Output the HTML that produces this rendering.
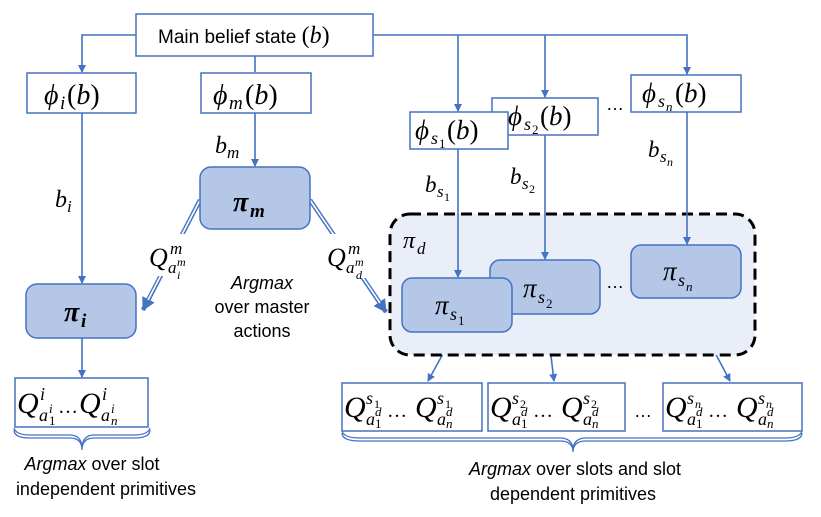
<!DOCTYPE html>
<html><head><meta charset="utf-8"><style>
html,body{margin:0;padding:0;background:#fff;}
svg{display:block}
.m{font-family:"Liberation Serif",serif;font-style:italic;}
.t{font-family:"Liberation Sans",sans-serif;}
.n{font-style:normal;}
</style></head><body>
<svg width="821" height="517" viewBox="0 0 821 517" xmlns="http://www.w3.org/2000/svg">
<defs>
<marker id="a" markerWidth="8" markerHeight="8" refX="7" refY="4" orient="auto" markerUnits="userSpaceOnUse"><path d="M0,0 L8,4 L0,8 z" fill="#4472c4"/></marker>
<marker id="b" markerWidth="14" markerHeight="14" refX="12" refY="7" orient="auto" markerUnits="userSpaceOnUse"><path d="M0,0 L13,7 L0,14 z" fill="#4472c4"/></marker>
</defs>
<g stroke="#4472c4" stroke-width="1.6" fill="none">
<path d="M136,35 H82 V72" marker-end="url(#a)"/>
<path d="M255,56 V72"/>
<path d="M373,35 H687 V74" marker-end="url(#a)"/>
<path d="M458,35 V111" marker-end="url(#a)"/>
<path d="M545,35 V97" marker-end="url(#a)"/>
<path d="M255,113 V166" marker-end="url(#a)"/>
<path d="M82,113 V283" marker-end="url(#a)"/>
<path d="M82,338 V377" marker-end="url(#a)"/>
<path d="M455,332 L428,381" marker-end="url(#a)"/>
<path d="M546,314 L554,381" marker-end="url(#a)"/>
<path d="M686,298 L730,381" marker-end="url(#a)"/>
</g>
<g stroke="#4472c4" stroke-width="4.5" fill="none">
<path d="M200,200 L143,310" marker-end="url(#b)"/>
<path d="M310,200 L386,312" marker-end="url(#b)"/>
</g>
<g stroke="#fff" stroke-width="1.6" fill="none">
<path d="M200,200 L148,300"/>
<path d="M310,200 L380,303"/>
</g>
<rect x="390" y="214" width="365" height="141" rx="20" fill="#e9eef8" stroke="#000" stroke-width="3" stroke-dasharray="11,6"/>
<g stroke="#4472c4" stroke-width="1.6" fill="none">
<path d="M458,149 V277" marker-end="url(#a)"/>
<path d="M545,135 V259" marker-end="url(#a)"/>
<path d="M687,112 V244" marker-end="url(#a)"/>
</g>
<rect x="148" y="234" width="50" height="42" fill="#fff"/>
<rect x="325" y="234" width="52" height="44" fill="#fff"/>
<g fill="#fff" stroke="#4472c4" stroke-width="1.5">
<rect x="136" y="14" width="237" height="42"/>
<rect x="27" y="73" width="109" height="40"/>
<rect x="201" y="73" width="110" height="40"/>
<rect x="492" y="98" width="106" height="37"/>
<rect x="410" y="112" width="98" height="37"/>
<rect x="631" y="75" width="110" height="37"/>
<rect x="15" y="378" width="133" height="49"/>
<rect x="342" y="383" width="140" height="48"/>
<rect x="488" y="383" width="137" height="48"/>
<rect x="663" y="383" width="139" height="48"/>
</g>
<g fill="#b4c7e7" stroke="#4472c4" stroke-width="1.5">
<rect x="200" y="167" width="110" height="62" rx="11"/>
<rect x="26" y="284" width="110" height="54" rx="11"/>
<rect x="490" y="260" width="110" height="54" rx="10"/>
<rect x="402" y="278" width="110" height="54" rx="10"/>
<rect x="631" y="245" width="110" height="53" rx="10"/>
</g>
<g stroke="#4472c4" stroke-width="1.3" fill="none">
<path d="M14,430 Q14,438 30,438 H70 Q82,438 82,450 Q82,438 94,438 H134 Q150,438 150,430"/>
<path d="M14,428 Q16,435 30,435 H70 Q81,435 82,447 Q83,435 94,435 H134 Q148,435 150,428"/>
<path d="M342,433 Q342,441 360,441 H560 Q573,441 573,452 Q573,441 586,441 H785 Q802,441 802,433"/>
<path d="M342,431 Q344,438 360,438 H560 Q572,438 573,449 Q574,438 586,438 H785 Q800,438 802,431"/>
</g>
<text x="158" y="43" class="t" font-size="19">Main belief state <tspan class="m n" font-size="24">(</tspan><tspan class="m" font-size="24">b</tspan><tspan class="m n" font-size="24">)</tspan></text>
<g class="m" fill="#000">
<!-- phi boxes -->
<text x="44" y="104" font-size="28">ϕ</text><text x="60" y="109" font-size="19">i</text><text x="67" y="104" font-size="28"><tspan class="n">(</tspan>b<tspan class="n">)</tspan></text>
<text x="213" y="104" font-size="28">ϕ</text><text x="229" y="109" font-size="19">m</text><text x="245" y="104" font-size="28"><tspan class="n">(</tspan>b<tspan class="n">)</tspan></text>
<text x="415" y="139" font-size="27">ϕ</text><text x="431" y="144" font-size="18">s</text><text x="439" y="148" font-size="13" class="n">1</text><text x="447" y="139" font-size="27"><tspan class="n">(</tspan>b<tspan class="n">)</tspan></text>
<text x="508" y="125" font-size="27">ϕ</text><text x="524" y="130" font-size="18">s</text><text x="532" y="134" font-size="13" class="n">2</text><text x="540" y="125" font-size="27"><tspan class="n">(</tspan>b<tspan class="n">)</tspan></text>
<text x="642" y="102" font-size="27">ϕ</text><text x="658" y="107" font-size="18">s</text><text x="666" y="111" font-size="13">n</text><text x="675" y="102" font-size="27"><tspan class="n">(</tspan>b<tspan class="n">)</tspan></text>
<!-- b labels -->
<text x="215" y="153" font-size="24">b</text><text x="227" y="158" font-size="17">m</text>
<text x="55" y="207" font-size="24">b</text><text x="67" y="212" font-size="17">i</text>
<text x="425" y="192" font-size="23">b</text><text x="437" y="197" font-size="17">s</text><text x="444" y="201" font-size="12" class="n">1</text>
<text x="510" y="184" font-size="23">b</text><text x="522" y="189" font-size="17">s</text><text x="529" y="193" font-size="12" class="n">2</text>
<text x="648" y="157" font-size="23">b</text><text x="660" y="162" font-size="17">s</text><text x="667" y="166" font-size="12">n</text>
<!-- pi -->
<text x="233" y="211" font-size="28" font-weight="bold">π</text><text x="250" y="217" font-size="19" font-weight="bold">m</text>
<text x="64" y="321" font-size="28" font-weight="bold">π</text><text x="81" y="327" font-size="19" font-weight="bold">i</text>
<text x="403" y="248" font-size="24">π</text><text x="417" y="254" font-size="17">d</text>
<text x="435" y="314" font-size="27">π</text><text x="450" y="320" font-size="18">s</text><text x="458" y="325" font-size="13" class="n">1</text>
<text x="523" y="297" font-size="27">π</text><text x="538" y="303" font-size="18">s</text><text x="546" y="308" font-size="13" class="n">2</text>
<text x="663" y="280" font-size="27">π</text><text x="678" y="286" font-size="18">s</text><text x="686" y="291" font-size="13">n</text>
<!-- Q labels on double lines -->
<text x="149" y="266" font-size="26">Q</text><text x="170" y="254" font-size="17">m</text><text x="168" y="273" font-size="17">a</text><text x="177" y="266" font-size="12">m</text><text x="177" y="279" font-size="12">i</text>
<text x="327" y="266" font-size="26">Q</text><text x="348" y="254" font-size="17">m</text><text x="346" y="273" font-size="17">a</text><text x="355" y="266" font-size="12">m</text><text x="356" y="279" font-size="12">d</text>
<!-- Q_i box -->
<text x="17" y="413" font-size="30">Q</text><text x="40" y="400" font-size="18">i</text><text x="39" y="421" font-size="18">a</text><text x="49" y="413" font-size="13">i</text><text x="49" y="425" font-size="13" class="n">1</text>
<text x="58" y="413" font-size="20" class="n">…</text>
<text x="79" y="413" font-size="30">Q</text><text x="102" y="400" font-size="18">i</text><text x="101" y="421" font-size="18">a</text><text x="111" y="413" font-size="13">i</text><text x="111" y="425" font-size="13">n</text>
<!-- slot Q boxes -->
<text x="344" y="417" font-size="30">Q</text><text x="366" y="404" font-size="18">s</text><text x="374" y="408" font-size="12" class="n">1</text><text x="366" y="425" font-size="18">a</text><text x="375" y="416" font-size="13">d</text><text x="375" y="428" font-size="13" class="n">1</text>
<text x="387" y="417" font-size="20" class="n">…</text>
<text x="415" y="417" font-size="30">Q</text><text x="437" y="404" font-size="18">s</text><text x="445" y="408" font-size="12" class="n">1</text><text x="437" y="425" font-size="18">a</text><text x="446" y="416" font-size="13">d</text><text x="446" y="428" font-size="13">n</text>
<text x="490" y="417" font-size="30">Q</text><text x="512" y="404" font-size="18">s</text><text x="520" y="408" font-size="12" class="n">2</text><text x="512" y="425" font-size="18">a</text><text x="521" y="416" font-size="13">d</text><text x="521" y="428" font-size="13" class="n">1</text>
<text x="533" y="417" font-size="20" class="n">…</text>
<text x="561" y="417" font-size="30">Q</text><text x="583" y="404" font-size="18">s</text><text x="591" y="408" font-size="12" class="n">2</text><text x="583" y="425" font-size="18">a</text><text x="592" y="416" font-size="13">d</text><text x="592" y="428" font-size="13">n</text>
<text x="665" y="417" font-size="30">Q</text><text x="687" y="404" font-size="18">s</text><text x="695" y="408" font-size="12">n</text><text x="687" y="425" font-size="18">a</text><text x="696" y="416" font-size="13">d</text><text x="696" y="428" font-size="13" class="n">1</text>
<text x="708" y="417" font-size="20" class="n">…</text>
<text x="736" y="417" font-size="30">Q</text><text x="758" y="404" font-size="18">s</text><text x="766" y="408" font-size="12">n</text><text x="758" y="425" font-size="18">a</text><text x="767" y="416" font-size="13">d</text><text x="767" y="428" font-size="13">n</text>
</g>
<g class="t" font-size="18" fill="#000">
<text x="606" y="110">…</text>
<text x="606" y="288">…</text>
<text x="634" y="417">…</text>
<text x="262" y="289" text-anchor="middle" font-style="italic">Argmax</text>
<text x="262" y="313" text-anchor="middle">over master</text>
<text x="262" y="337" text-anchor="middle">actions</text>
<text x="92" y="470" text-anchor="middle"><tspan font-style="italic">Argmax</tspan> over slot</text>
<text x="106" y="495" text-anchor="middle">independent primitives</text>
<text x="575" y="475" text-anchor="middle"><tspan font-style="italic">Argmax</tspan> over slots and slot</text>
<text x="573" y="500" text-anchor="middle">dependent primitives</text>
</g>
</svg>
</body></html>
